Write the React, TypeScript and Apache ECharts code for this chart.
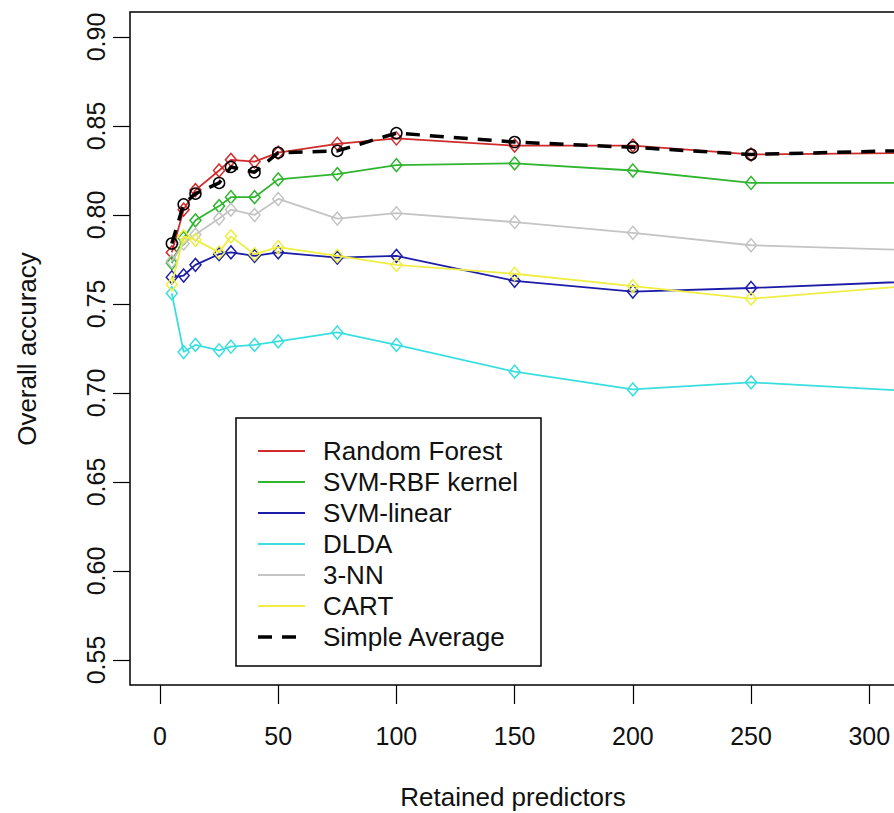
import React, { useEffect, useRef } from "react";
import * as echarts from "echarts";

// Number of retained predictors (x positions of the points)
const predictors = [5, 10, 15, 25, 30, 40, 50, 75, 100, 150, 200, 250, 400];

// Overall accuracy per method
const randomForest = [0.779, 0.803, 0.814, 0.825, 0.831, 0.830, 0.835, 0.840, 0.843, 0.839, 0.839, 0.834, 0.836];
const svmRbf = [0.773, 0.787, 0.797, 0.805, 0.810, 0.810, 0.820, 0.823, 0.828, 0.829, 0.825, 0.818, 0.818];
const svmLinear = [0.765, 0.766, 0.772, 0.778, 0.779, 0.777, 0.779, 0.776, 0.777, 0.763, 0.757, 0.759, 0.767];
const dlda = [0.756, 0.723, 0.727, 0.724, 0.726, 0.727, 0.729, 0.734, 0.727, 0.712, 0.702, 0.706, 0.695];
const knn3 = [0.774, 0.784, 0.789, 0.798, 0.803, 0.800, 0.809, 0.798, 0.801, 0.796, 0.790, 0.783, 0.777];
const cart = [0.761, 0.788, 0.786, 0.779, 0.788, 0.778, 0.782, 0.777, 0.772, 0.767, 0.760, 0.753, 0.769];
const simpleAverage = [0.784, 0.806, 0.812, 0.818, 0.827, 0.824, 0.835, 0.836, 0.846, 0.841, 0.838, 0.834, 0.839];

const seriesNames = ["Random Forest", "SVM-RBF kernel", "SVM-linear", "DLDA", "3-NN", "CART", "Simple Average"];
const seriesValues = [randomForest, svmRbf, svmLinear, dlda, knn3, cart, simpleAverage];
const seriesColors = ["#cf2b2b", "#2fb52f", "#1c1ca8", "#3adede", "#c4c4c4", "#eeee44", "#000000"];

// Tick labels
const xTicks = [0, 50, 100, 150, 200, 250, 300];
const yTicks = [0.55, 0.6, 0.65, 0.7, 0.75, 0.8, 0.85, 0.9];

const FONT = "'Liberation Sans', Arial, sans-serif";

export default function App() {
  const ref = useRef<HTMLDivElement>(null);

  useEffect(() => {
    const chart = echarts.init(ref.current!, null, { renderer: "svg" });

    const series = seriesNames.map((name, i) => {
      const isAvg = i === seriesNames.length - 1;
      return {
        name,
        type: "line",
        data: predictors.map((p, j) => [p, seriesValues[i][j]]),
        symbol: isAvg ? "circle" : "diamond",
        symbolSize: isAvg ? 11 : [11, 13],
        showAllSymbol: true,
        lineStyle: {
          color: seriesColors[i],
          width: isAvg ? 3.5 : 1.8,
          type: isAvg ? [14, 10] : "solid",
        },
        itemStyle: {
          color: "transparent",
          borderColor: seriesColors[i],
          borderWidth: 1.5,
        },
        emphasis: { disabled: true },
        z: 2 + i,
      };
    });

    const legendX = 236;
    const legendY = 418;
    const rowGap = 31;
    const legendItems: any[] = [
      {
        type: "rect",
        shape: { x: legendX, y: legendY, width: 305, height: 248 },
        style: { fill: "#fff", stroke: "#000", lineWidth: 1.5 },
        z: 20,
      },
    ];
    seriesNames.forEach((name, i) => {
      const isAvg = i === seriesNames.length - 1;
      const y = legendY + 33 + rowGap * i;
      legendItems.push({
        type: "line",
        shape: { x1: 258, y1: y, x2: 305, y2: y },
        style: {
          stroke: seriesColors[i],
          lineWidth: isAvg ? 3.5 : 1.8,
          lineDash: isAvg ? [14, 10] : null,
        },
        z: 21,
      });
      legendItems.push({
        type: "text",
        x: 323,
        y,
        style: {
          text: name,
          fontSize: 26,
          fontFamily: FONT,
          fill: "#111",
          verticalAlign: "middle",
          align: "left",
        },
        z: 21,
      });
    });

    chart.setOption({
      animation: false,
      backgroundColor: "#fff",
      grid: {
        left: 130,
        top: 12,
        width: 1023,
        height: 673,
        show: true,
        borderColor: "#000",
        borderWidth: 1.5,
        backgroundColor: "transparent",
      },
      xAxis: {
        type: "value",
        min: -12.685,
        max: 420,
        axisLine: { show: false, onZero: false },
        splitLine: { show: false },
        axisTick: { show: true, length: 19, lineStyle: { color: "#000", width: 1.2 }, customValues: xTicks },
        axisLabel: {
          customValues: xTicks,
          margin: 38,
          fontSize: 25,
          fontFamily: FONT,
          color: "#111",
          formatter: (v: number) => String(v),
        },
      },
      yAxis: {
        type: "value",
        min: 0.53596,
        max: 0.91404,
        axisLine: { show: false, onZero: false },
        splitLine: { show: false },
        axisTick: { show: true, length: 17, lineStyle: { color: "#000", width: 1.2 }, customValues: yTicks },
        axisLabel: {
          customValues: yTicks,
          rotate: 90,
          margin: 22,
          fontSize: 25,
          fontFamily: FONT,
          color: "#111",
          formatter: (v: number) => v.toFixed(2),
        },
      },
      series,
      graphic: [
        {
          type: "text",
          x: 27,
          y: 349,
          rotation: Math.PI / 2,
          style: {
            text: "Overall accuracy",
            fontSize: 26,
            fontFamily: FONT,
            fill: "#111",
            align: "center",
            verticalAlign: "middle",
          },
        },
        {
          type: "text",
          x: 513,
          y: 797,
          style: {
            text: "Retained predictors",
            fontSize: 26,
            fontFamily: FONT,
            fill: "#111",
            align: "center",
            verticalAlign: "middle",
          },
        },
        ...legendItems,
      ],
    });

    return () => chart.dispose();
  }, []);

  return (
    <div
      style={{
        position: "fixed",
        left: 0,
        top: 0,
        width: 894,
        height: 813,
        overflow: "hidden",
        background: "#fff",
      }}
    >
      <div ref={ref} style={{ width: 1200, height: 813 }} />
    </div>
  );
}
